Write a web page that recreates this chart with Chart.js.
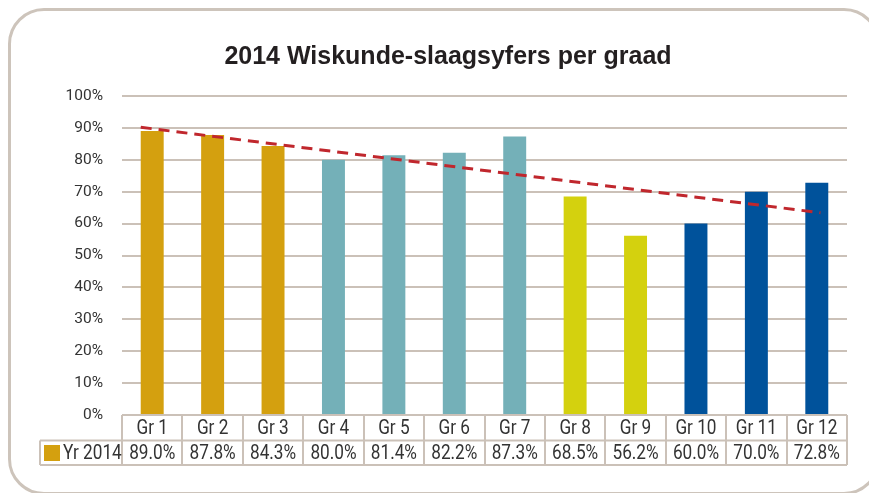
<!DOCTYPE html>
<html>
<head>
<meta charset="utf-8">
<script src="https://cdn.jsdelivr.net/npm/chart.js@4.4.1/dist/chart.umd.min.js"></script>
<style>
  html, body { margin: 0; padding: 0; background: #ffffff; overflow: hidden; }
  #wrap { position: relative; width: 869px; height: 493px; overflow: hidden; }
  #card { position: absolute; left: 8px; top: 8px; width: 872px; height: 487px; box-sizing: border-box;
          border: 3px solid #cdc4bb; border-radius: 36px; }
  #c { position: absolute; left: 0; top: 0; }
</style>
</head>
<body>
<div id="wrap">
  <div id="card"></div>
  <canvas id="c" width="869" height="493"></canvas>
</div>
<script>
const chartTitle = '2014 Wiskunde-slaagsyfers per graad';
const categories = ['Gr 1','Gr 2','Gr 3','Gr 4','Gr 5','Gr 6','Gr 7','Gr 8','Gr 9','Gr 10','Gr 11','Gr 12'];
const seriesLabel = 'Yr 2014';
const passRates = [89.0, 87.8, 84.3, 80.0, 81.4, 82.2, 87.3, 68.5, 56.2, 60.0, 70.0, 72.8];
// trendline end points (x in category-index units)
const trendX = [-0.19, 11.06];
const trendY = [90.2, 63.4];
const yTicks = [0,10,20,30,40,50,60,70,80,90,100];

const GOLD = '#d4a00f', TEAL = '#74b0b8', LIME = '#d4d10e', BLUE = '#00529b';
const barColors = [GOLD, GOLD, GOLD, TEAL, TEAL, TEAL, TEAL, LIME, LIME, BLUE, BLUE, BLUE];
const LINE = '#cbc1b8';
const TEXT = '#333333';
const FONT = 'Roboto, "Liberation Sans", sans-serif';
const SQUEEZE = 0.86;

function narrowText(ctx, text, x, y) {
  ctx.save();
  ctx.translate(x, y);
  ctx.scale(SQUEEZE, 1);
  ctx.fillText(text, 0, 0);
  ctx.restore();
}

const tablePlugin = {
  id: 'tablePlugin',
  afterDraw(chart) {
    const ctx = chart.ctx;
    const ca = chart.chartArea;
    const n = categories.length;
    const w = (ca.right - ca.left) / n;
    const y0 = ca.bottom, y1 = ca.bottom + 25.5, y2 = ca.bottom + 50;
    const xLeft = 40;
    ctx.save();
    // title
    ctx.fillStyle = '#231f20';
    ctx.font = 'bold 25px "Liberation Sans", Arial, sans-serif';
    ctx.textAlign = 'center';
    ctx.textBaseline = 'alphabetic';
    ctx.fillText(chartTitle, 448, 64);
    // lines
    ctx.strokeStyle = LINE;
    ctx.lineWidth = 2;
    ctx.beginPath();
    ctx.moveTo(xLeft, y1); ctx.lineTo(ca.right, y1);
    ctx.moveTo(xLeft, y2); ctx.lineTo(ca.right, y2);
    ctx.moveTo(xLeft, y1); ctx.lineTo(xLeft, y2);
    for (let i = 0; i <= n; i++) {
      const x = Math.round(ca.left + i * w);
      ctx.moveTo(x, y0); ctx.lineTo(x, y2);
    }
    ctx.stroke();
    // text
    ctx.fillStyle = TEXT;
    ctx.font = '20px ' + FONT;
    ctx.textAlign = 'center';
    ctx.textBaseline = 'middle';
    const xs = chart.scales.x;
    for (let i = 0; i < n; i++) {
      const cx = xs.getPixelForValue(i);
      narrowText(ctx, categories[i], cx, (y0 + y1) / 2 + 1);
      narrowText(ctx, passRates[i].toFixed(1) + '%', cx, (y1 + y2) / 2 + 1);
    }
    // legend key
    ctx.fillStyle = GOLD;
    ctx.fillRect(44, y1 + 4.5, 16, 16);
    ctx.fillStyle = TEXT;
    ctx.textAlign = 'left';
    narrowText(ctx, seriesLabel, 63, (y1 + y2) / 2 + 1);
    ctx.restore();
  }
};

new Chart(document.getElementById('c'), {
  type: 'bar',
  data: {
    labels: categories,
    datasets: [
      {
        label: seriesLabel,
        data: passRates,
        backgroundColor: barColors,
        borderWidth: 0,
        grouped: false,
        categoryPercentage: 1.0,
        barPercentage: 0.38,
        order: 1
      },
      {
        type: 'line',
        label: 'Trend',
        data: trendX.map((x, i) => ({ x: x, y: trendY[i] })),
        xAxisID: 'x2',
        borderColor: '#c0272d',
        borderWidth: 3,
        borderDash: [11, 7],
        pointRadius: 0,
        fill: false,
        order: 0
      }
    ]
  },
  options: {
    responsive: false,
    animation: false,
    events: [],
    layout: { padding: { top: 96, right: 22, bottom: 0, left: 0 } },
    plugins: { legend: { display: false }, title: { display: false }, tooltip: { enabled: false } },
    scales: {
      x: {
        type: 'category',
        grid: { display: false },
        border: { display: false },
        ticks: { display: false },
        afterFit(scale) { scale.height = 78; }
      },
      x2: {
        type: 'linear',
        display: false,
        offset: false,
        grid: { offset: false },
        min: -0.5,
        max: categories.length - 0.5
      },
      y: {
        min: 0,
        max: 100,
        afterBuildTicks(scale) { scale.ticks = yTicks.map(v => ({ value: v })); },
        afterFit(scale) { scale.width = 122; },
        grid: { color: LINE, lineWidth: 2, drawTicks: false },
        border: { display: false },
        ticks: {
          padding: 19,
          color: TEXT,
          font: { family: FONT, size: 15.5 },
          callback: v => v + '%'
        }
      }
    }
  },
  plugins: [tablePlugin]
});
</script>
</body>
</html>
